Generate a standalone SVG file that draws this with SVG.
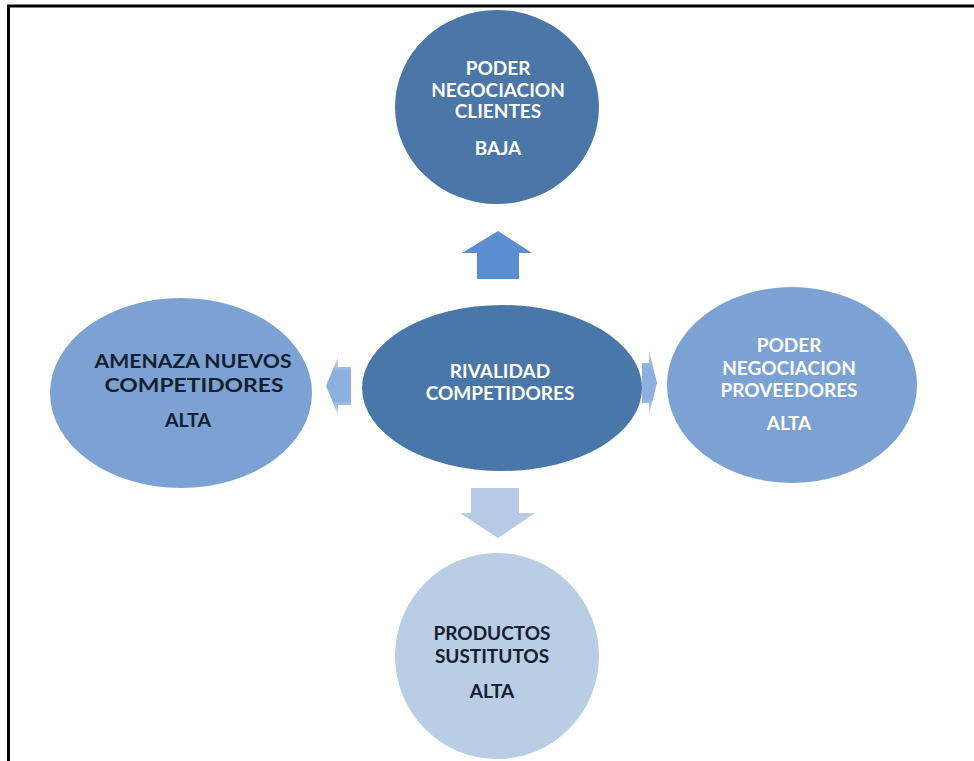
<svg xmlns="http://www.w3.org/2000/svg" width="974" height="761" viewBox="0 0 974 761">
  <style>
    .lbl { font-family: Lato, "Liberation Sans", sans-serif; font-weight: bold; font-size: 19px; text-anchor: middle; }
    .light { fill: #ffffff; }
    .dark { fill: #15202e; }
  </style>
  <defs>
    <linearGradient id="sideFade" x1="0" y1="0" x2="0" y2="1">
      <stop offset="0" stop-color="#8db0de" stop-opacity="0.4"/>
      <stop offset="0.25" stop-color="#8db0de"/>
      <stop offset="0.75" stop-color="#8db0de"/>
      <stop offset="1" stop-color="#8db0de" stop-opacity="0.4"/>
    </linearGradient>
  </defs>

  <rect width="974" height="761" fill="#ffffff"/>
  <!-- frame -->
  <path d="M8.5 761 V6 H974" fill="none" stroke="#000000" stroke-width="3"/>

  <!-- block arrows -->
  <g id="connectors">
    <polygon points="498,231 532,253 519,253 519,279 477,279 477,253 462,253" fill="#5b8ed0"/>
    <polygon points="471,488 519,488 519,513 535,513 498,538 460,513 471,513" fill="#b6cae5"/>
    <polygon points="326,386 338,357 338,367 351,367 351,405 338,405 338,415" fill="url(#sideFade)"/>
    <polygon points="657,383 649,350 649,363 642,363 642,403 649,403 649,415" fill="url(#sideFade)"/>
  </g>

  <g id="clientes">
    <ellipse cx="497" cy="107" rx="102" ry="97" fill="#4a76a8"/>
    <text class="lbl light" x="498" y="75">PODER</text>
    <text class="lbl light" x="498" y="97">NEGOCIACION</text>
    <text class="lbl light" x="498" y="118">CLIENTES</text>
    <text class="lbl light" x="498" y="155">BAJA</text>
  </g>

  <g id="rivalidad">
    <ellipse cx="502" cy="388" rx="140" ry="83" fill="#4a77a9"/>
    <text class="lbl light" x="500" y="378">RIVALIDAD</text>
    <text class="lbl light" x="500" y="400">COMPETIDORES</text>
  </g>

  <g id="nuevos">
    <ellipse cx="181" cy="393" rx="131" ry="95" fill="#7ca2d4"/>
    <text class="lbl dark" x="193" y="368" textLength="197" lengthAdjust="spacingAndGlyphs">AMENAZA NUEVOS</text>
    <text class="lbl dark" x="194" y="392" textLength="179" lengthAdjust="spacingAndGlyphs">COMPETIDORES</text>
    <text class="lbl dark" x="188" y="427" textLength="46" lengthAdjust="spacingAndGlyphs">ALTA</text>
  </g>

  <g id="proveedores">
    <ellipse cx="792" cy="385" rx="125" ry="98" fill="#7ca2d4"/>
    <text class="lbl light" x="789" y="352">PODER</text>
    <text class="lbl light" x="789" y="375">NEGOCIACION</text>
    <text class="lbl light" x="789" y="397">PROVEEDORES</text>
    <text class="lbl light" x="789" y="430">ALTA</text>
  </g>

  <g id="sustitutos">
    <ellipse cx="497" cy="656" rx="102" ry="103" fill="#b9cde5"/>
    <text class="lbl dark" x="492" y="640">PRODUCTOS</text>
    <text class="lbl dark" x="492" y="663">SUSTITUTOS</text>
    <text class="lbl dark" x="492" y="698">ALTA</text>
  </g>
</svg>
